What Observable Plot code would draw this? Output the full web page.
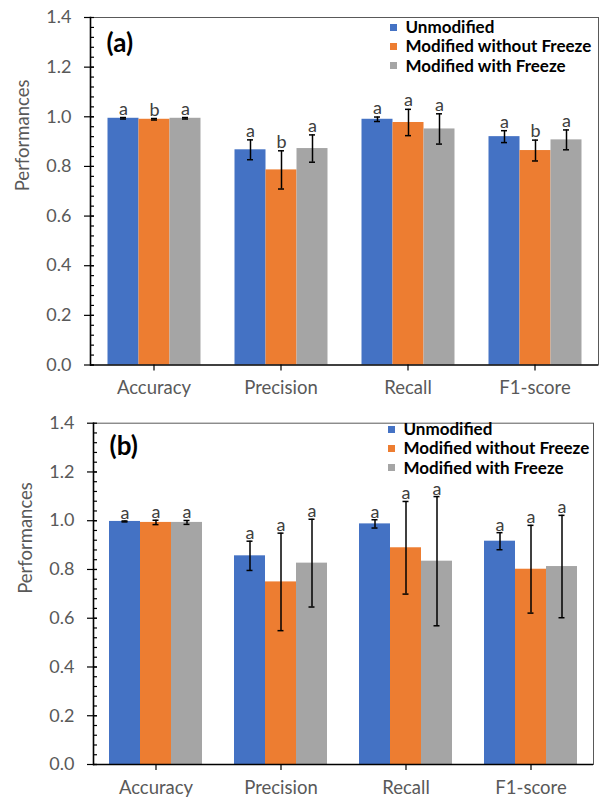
<!DOCTYPE html>
<html>
<head>
<meta charset="utf-8">
<script src="https://cdn.jsdelivr.net/npm/d3@7"></script>
<script src="https://cdn.jsdelivr.net/npm/@observablehq/plot@0.6"></script>
<style>
  html, body { margin: 0; padding: 0; background: white; }
  .panel { position: relative; width: 603px; }
  .legend { position: absolute; }
  .legend .lg-swatches { font-family: Lato, sans-serif !important; font-size: 17px !important; font-weight: bold; color: black; margin: 0 !important; }
  .legend .lg-swatch { line-height: 18.3px; padding-bottom: 1px; white-space: nowrap; }
  .legend .lg-swatch-label { max-width: none !important; overflow: visible !important; }
</style>
</head>
<body>
<div class="panel" id="pa"></div>
<div class="panel" id="pb"></div>
<script>
// ---- data ----
const categories = ["Accuracy", "Precision", "Recall", "F1-score"];
const series = ["Unmodified", "Modified without Freeze", "Modified with Freeze"];
const colors = ["#4472C4", "#ED7D31", "#A5A5A5"];
const yTicks = [0, 0.2, 0.4, 0.6, 0.8, 1.0, 1.2, 1.4];

// panel (a)
const aUnmodified = [0.994, 0.867, 0.990, 0.920];
const aNoFreeze   = [0.990, 0.786, 0.977, 0.864];
const aFreeze     = [0.994, 0.872, 0.951, 0.907];
const aUnmodifiedErr = [0.003, 0.040, 0.009, 0.024];
const aNoFreezeErr   = [0.003, 0.077, 0.053, 0.042];
const aFreezeErr     = [0.003, 0.055, 0.061, 0.040];
const aUnmodifiedSig = ["a", "a", "a", "a"];
const aNoFreezeSig   = ["b", "b", "a", "b"];
const aFreezeSig     = ["a", "a", "a", "a"];

// panel (b)
const bUnmodified = [0.997, 0.856, 0.987, 0.916];
const bNoFreeze   = [0.993, 0.749, 0.889, 0.801];
const bFreeze     = [0.993, 0.826, 0.834, 0.812];
const bUnmodifiedErr = [0.002, 0.060, 0.017, 0.035];
const bNoFreezeErr   = [0.009, 0.200, 0.190, 0.180];
const bFreezeErr     = [0.008, 0.180, 0.265, 0.210];
const bUnmodifiedSig = ["a", "a", "a", "a"];
const bNoFreezeSig   = ["a", "a", "a", "a"];
const bFreezeSig     = ["a", "a", "a", "a"];

function buildRows(vals, errs, sigs) {
  const rows = [];
  categories.forEach((c, i) => series.forEach((s, j) => {
    rows.push({cat: c, ser: s, v: vals[j][i], e: errs[j][i], sig: sigs[j][i]});
  }));
  return rows;
}

function panel({rows, tag, height, mt, mb, ml, mr, tagDy, sigDy}) {
  const minor = d3.range(0, 35).map(k => k * 0.04);
  return Plot.plot({
    width: 603, height,
    marginTop: mt, marginBottom: mb, marginLeft: ml, marginRight: mr,
    style: {fontFamily: "Lato, sans-serif", background: "white", overflow: "visible"},
    fx: {domain: categories, paddingInner: 0, paddingOuter: 0, axis: null, label: null},
    x: {domain: series, paddingInner: 0, paddingOuter: 0.5, axis: null},
    y: {domain: [0, 1.4], axis: null},
    color: {domain: series, range: colors},
    marks: [
      Plot.barY(rows, {fx: "cat", x: "ser", y: "v", fill: "ser"}),
      Plot.ruleX(rows, {fx: "cat", x: "ser", y1: d => d.v - d.e, y2: d => d.v + d.e, stroke: "black", strokeWidth: 1.5}),
      Plot.tickY(rows, {fx: "cat", x: "ser", y: d => d.v + d.e, stroke: "black", strokeWidth: 1.5, inset: 12.5}),
      Plot.tickY(rows, {fx: "cat", x: "ser", y: d => d.v - d.e, stroke: "black", strokeWidth: 1.5, inset: 12.5}),
      Plot.text(rows, {fx: "cat", x: "ser", y: d => d.v + d.e, text: "sig", lineAnchor: "bottom", dy: sigDy, fontSize: 18, fill: "#404040"}),
      Plot.ruleY([1.4], {stroke: "#595959", strokeWidth: 1}),
      Plot.frame({anchor: "right", facetAnchor: "right", stroke: "#595959", strokeWidth: 1}),
      Plot.ruleY([0], {stroke: "black", strokeWidth: 1.6}),
      Plot.frame({anchor: "left", facetAnchor: "left", stroke: "black", strokeWidth: 1.6}),
      Plot.axisY({ticks: minor, tickSize: 4, dx: 4, tickFormat: () => "", stroke: "black", strokeWidth: 1.2, label: null}),
      Plot.axisY({ticks: yTicks, tickSize: 10, dx: 4, tickPadding: 13, tickFormat: d3.format(".1f"), fontSize: 18, stroke: "black", strokeWidth: 1.2, fill: "#595959", label: null}),
      Plot.axisFx({anchor: "bottom", tickSize: 6, tickFormat: () => "", stroke: "black", strokeWidth: 1.2, label: null}),
      Plot.axisFx({anchor: "bottom", tickSize: 0, tickPadding: 16, fontSize: 18.5, fill: "#595959", label: null}),
      Plot.text([{cat: categories[0]}], {fx: "cat", frameAnchor: "left", text: () => "Performances", rotate: -90, dx: -67, fontSize: 18.5, fill: "#595959"}),
      Plot.text([{cat: categories[0]}], {fx: "cat", frameAnchor: "top-left", text: () => tag, dx: 16, dy: tagDy, lineAnchor: "middle", textAnchor: "start", fontSize: 26, fontWeight: "bold", fill: "black"})
    ]
  });
}

function legend(left, top) {
  const lg = Plot.legend({legend: "swatches", color: {domain: series, range: colors}, columns: 1, swatchSize: 7, className: "lg"});
  const wrap = document.createElement("div");
  wrap.className = "legend";
  wrap.style.left = left + "px";
  wrap.style.top = top + "px";
  wrap.style.width = "230px";
  wrap.appendChild(lg);
  return wrap;
}

const pa = document.getElementById("pa");
pa.style.height = "400px";
pa.appendChild(panel({rows: buildRows([aUnmodified, aNoFreeze, aFreeze], [aUnmodifiedErr, aNoFreezeErr, aFreezeErr], [aUnmodifiedSig, aNoFreezeSig, aFreezeSig]), tag: "(a)", height: 400, mt: 17, mb: 35.5, ml: 88.5, mr: 4.5, tagDy: 26, sigDy: -3}));
pa.appendChild(legend(390, 18));

const pb = document.getElementById("pb");
pb.style.height = "399px";
pb.appendChild(panel({rows: buildRows([bUnmodified, bNoFreeze, bFreeze], [bUnmodifiedErr, bNoFreezeErr, bFreezeErr], [bUnmodifiedSig, bNoFreezeSig, bFreezeSig]), tag: "(b)", height: 399, mt: 22.7, mb: 35, ml: 93, mr: 9.5, tagDy: 23, sigDy: -2}));
pb.appendChild(legend(388, 20));
</script>
</body>
</html>
